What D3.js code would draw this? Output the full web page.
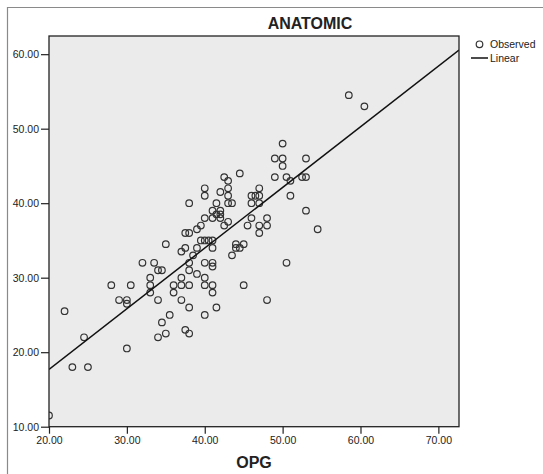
<!DOCTYPE html>
<html>
<head>
<meta charset="utf-8">
<script src="https://cdn.jsdelivr.net/npm/d3@7"></script>
<style>
  body { margin: 0; background: #fff; }
  text { font-family: "Liberation Sans", Arial, sans-serif; fill: #222; }
</style>
</head>
<body>
<div id="chart"></div>
<script>
// observed points (OPG, ANATOMIC)
var opg = [20, 22, 23, 25, 24.5, 28, 30.5, 29, 30, 30, 30, 32, 33.5, 34, 34.5, 33, 33, 33, 34, 35.5,
  34.5, 34, 35, 36, 36, 37, 37, 38, 37, 38, 37.5, 38, 38, 38, 39, 40, 41, 41, 40, 40,
  41, 41, 40, 41.5, 49, 50, 50, 53, 44.5, 42.5, 43, 49, 50.5, 51, 52.5, 53, 40, 40, 42, 43,
  43, 43, 43.5, 47, 46, 46.5, 47, 46, 47, 51, 38, 41.5, 41, 42, 41.5, 42, 40, 41, 42, 43,
  42.5, 39.5, 39, 37.5, 38, 46, 48, 45.5, 47, 48, 47, 53, 54.5, 50.5, 35, 39.5, 40, 40.5, 41, 41,
  37, 37.5, 38.5, 39, 44, 45, 44.5, 44, 43.5, 45, 48, 58.5, 60.5, 50];
var anatomic = [11.5, 25.5, 18, 18, 22, 29, 29, 27, 27, 26.5, 20.5, 32, 32, 31, 31, 30, 29, 28, 27, 25,
  24, 22, 22.5, 29, 28, 30, 29, 29, 27, 26, 23, 22.5, 31, 32, 30.5, 32, 32, 31.5, 30, 29,
  29, 28, 25, 26, 46, 46, 45, 46, 44, 43.5, 43, 43.5, 43.5, 43, 43.5, 43.5, 42, 41, 41.5, 42,
  41, 40, 40, 42, 41, 41, 41, 40, 40, 41, 40, 40, 39, 39, 38.5, 38.5, 38, 38, 38, 37.5,
  37, 37, 36.5, 36, 36, 38, 38, 37, 37, 37, 36, 39, 36.5, 32, 34.5, 35, 35, 35, 35, 34,
  33.5, 34, 33, 34, 34.5, 34.5, 34, 34, 33, 29, 27, 54.5, 53, 48];
// linear fit end points
var fitX = [20, 72.65];
var fitY = [17.7, 60.55];
var xTicks = [20, 30, 40, 50, 60, 70];
var yTicks = [10, 20, 30, 40, 50, 60];

var W = 543, H = 474;
var pLeft = 49, pRight = 459, pTop = 36, pBottom = 426.7;

var svg = d3.select("#chart").append("svg")
  .attr("width", W).attr("height", H);

// outer frame (left and top edges show)
svg.append("path")
  .attr("d", "M7.5," + H + "V7.5H" + W)
  .attr("fill", "none").attr("stroke", "#8a8a8a").attr("stroke-width", 1.2);

var x = d3.scaleLinear().domain([20, 72.65]).range([pLeft, pRight]);
var y = d3.scaleLinear().domain([10, 62.44]).range([pBottom, pTop]);

svg.append("rect")
  .attr("x", pLeft).attr("y", pTop)
  .attr("width", pRight - pLeft).attr("height", pBottom - pTop)
  .attr("fill", "#ebebeb");

svg.append("clipPath").attr("id", "plotclip")
  .append("rect")
  .attr("x", pLeft).attr("y", pTop)
  .attr("width", pRight - pLeft).attr("height", pBottom - pTop);

var plot = svg.append("g").attr("clip-path", "url(#plotclip)");

var pts = opg.map(function(d, i) { return {x: d, y: anatomic[i]}; });

plot.selectAll("circle.obs").data(pts).enter().append("circle")
  .attr("class", "obs")
  .attr("cx", function(d) { return x(d.x); })
  .attr("cy", function(d) { return y(d.y); })
  .attr("r", 3.3)
  .attr("fill", "none")
  .attr("stroke", "#333")
  .attr("stroke-width", 1.2);

var fit = fitX.map(function(d, i) { return [d, fitY[i]]; });
plot.append("path")
  .attr("d", d3.line().x(function(d) { return x(d[0]); }).y(function(d) { return y(d[1]); })(fit))
  .attr("fill", "none").attr("stroke", "#111").attr("stroke-width", 1.5);

// plot border
svg.append("rect")
  .attr("x", pLeft).attr("y", pTop)
  .attr("width", pRight - pLeft).attr("height", pBottom - pTop)
  .attr("fill", "none").attr("stroke", "#222").attr("stroke-width", 1.3);

var xAxis = d3.axisBottom(x).tickValues(xTicks).tickSize(7).tickPadding(3)
  .tickFormat(d3.format(".2f"));
var yAxis = d3.axisLeft(y).tickValues(yTicks).tickSize(8).tickPadding(2)
  .tickFormat(d3.format(".2f"));

var gx = svg.append("g").attr("transform", "translate(0," + pBottom + ")").call(xAxis);
var gy = svg.append("g").attr("transform", "translate(" + pLeft + ",0)").call(yAxis);
[gx, gy].forEach(function(g) {
  g.select(".domain").remove();
  g.selectAll("line").attr("stroke", "#222").attr("stroke-width", 1.2);
  g.selectAll("text").attr("font-size", "10.5px")
    .attr("font-family", "'Liberation Sans', Arial, sans-serif").attr("fill", "#222");
});

svg.append("text").attr("x", 310).attr("y", 29)
  .attr("text-anchor", "middle").attr("font-size", "16px").attr("font-weight", "bold")
  .text("ANATOMIC");

svg.append("text").attr("x", (pLeft + pRight) / 2).attr("y", 468)
  .attr("text-anchor", "middle").attr("font-size", "16px").attr("font-weight", "bold")
  .text("OPG");

// legend
var lg = svg.append("g");
lg.append("circle").attr("cx", 479.5).attr("cy", 44.3).attr("r", 3.3)
  .attr("fill", "none").attr("stroke", "#333").attr("stroke-width", 1.2);
lg.append("text").attr("x", 490).attr("y", 48).attr("font-size", "10.5px").text("Observed");
lg.append("line").attr("x1", 471).attr("x2", 488).attr("y1", 58).attr("y2", 58)
  .attr("stroke", "#111").attr("stroke-width", 1.5);
lg.append("text").attr("x", 490).attr("y", 62).attr("font-size", "10.5px").text("Linear");
</script>
</body>
</html>
